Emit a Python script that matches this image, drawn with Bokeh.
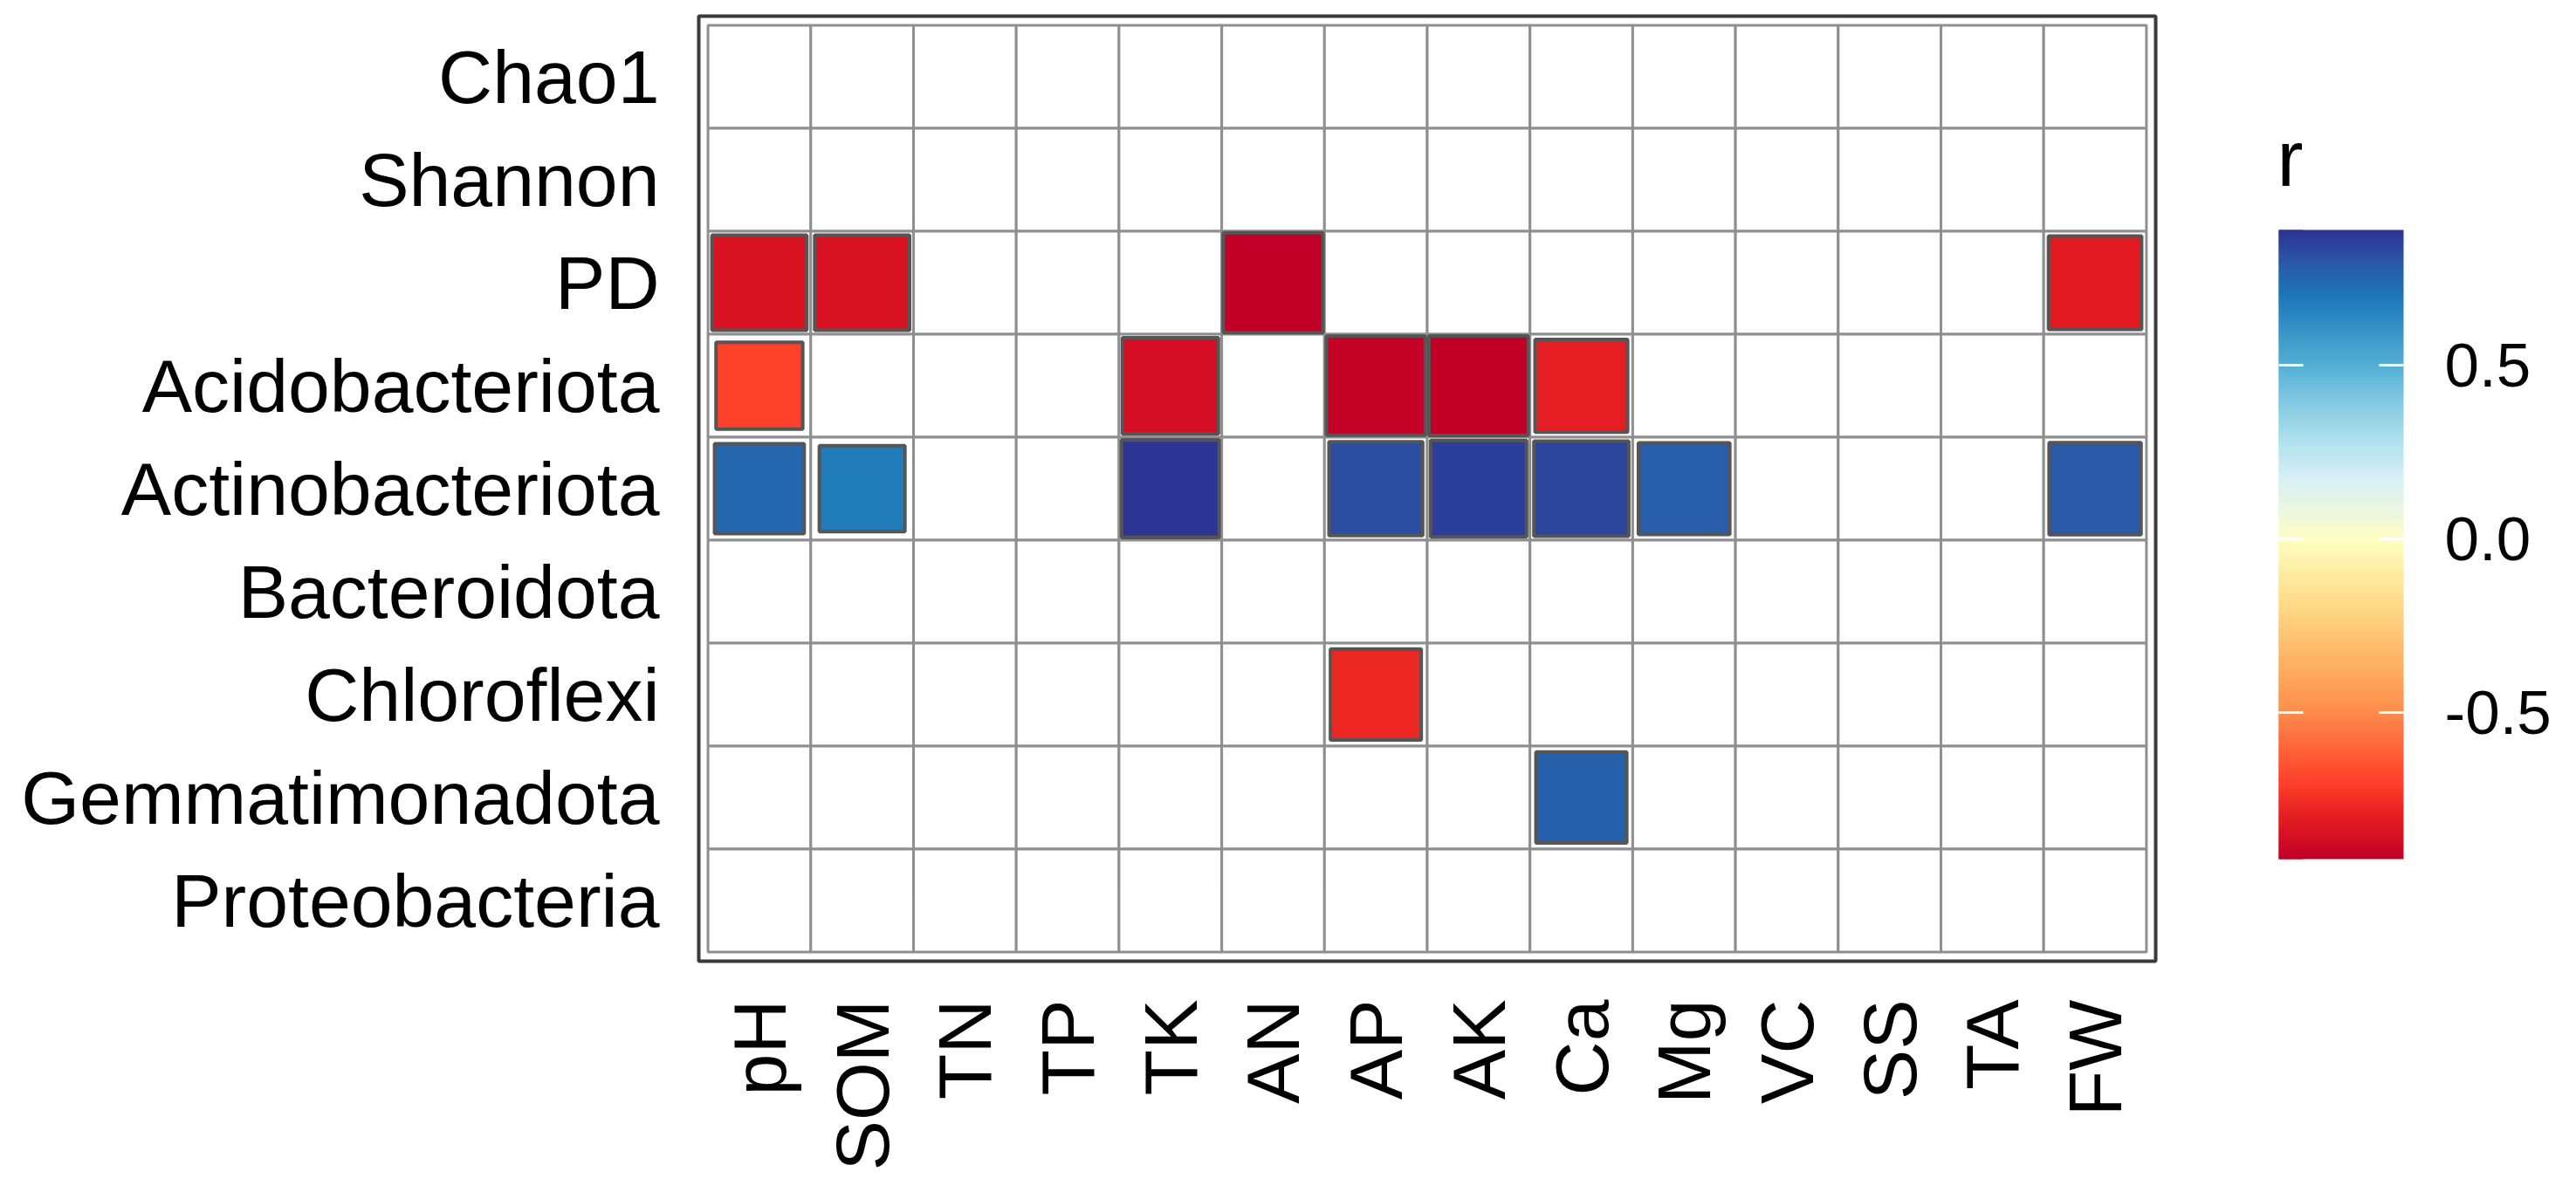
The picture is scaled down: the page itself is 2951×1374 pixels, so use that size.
import numpy as np
from bokeh.plotting import figure
from bokeh.models import (FactorRange, ColumnDataSource, LinearColorMapper, ColorBar,
                          FixedTicker, PrintfTickFormatter)
from bokeh.embed import file_html
from bokeh.resources import INLINE

# ---------------- data ----------------
taxa = ["Chao1", "Shannon", "PD", "Acidobacteriota", "Actinobacteriota",
        "Bacteroidota", "Chloroflexi", "Gemmatimonadota", "Proteobacteria"]
factors = ["pH", "SOM", "TN", "TP", "TK", "AN", "AP", "AK", "Ca", "Mg",
           "VC", "SS", "TA", "FW"]

sig_taxon = (["PD"] * 4 + ["Acidobacteriota"] * 5 + ["Actinobacteriota"] * 8
             + ["Chloroflexi", "Gemmatimonadota"])
sig_factor = ["pH", "SOM", "AN", "FW",
              "pH", "TK", "AP", "AK", "Ca",
              "pH", "SOM", "TK", "AP", "AK", "Ca", "Mg", "FW",
              "AP", "Ca"]
sig_r = [-0.84, -0.84, -0.922, -0.81,
         -0.70, -0.86, -0.91, -0.915, -0.80,
         0.75, 0.68, 0.889, 0.82, 0.86, 0.84, 0.78, 0.79,
         -0.77, 0.77]

legend_title = "r"
colorbar_ticks = [-0.5, 0.0, 0.5]

# colour scale stops (value, colour)
scale_vals = [-0.922, -0.867, -0.81, -0.72, -0.615, -0.5, -0.357, -0.206, -0.1, 0.0,
              0.068, 0.17, 0.276, 0.38, 0.5, 0.59, 0.70, 0.80, 0.889]
scale_cols = ["#c00026", "#d40e24", "#e31b22", "#fc3a28", "#ff6038", "#fd8c4c",
              "#fdb262", "#fed684", "#feeba2", "#ffffc2", "#eef8dc", "#d8f0f4",
              "#b2e2ee", "#88cce4", "#54b0d6", "#3a96c8", "#1c78b8", "#2a58a6",
              "#2c3494"]

# ---------------- palette ----------------
def hex2rgb(h):
    h = h.lstrip("#")
    return [int(h[i:i + 2], 16) for i in (0, 2, 4)]

r_low, r_high = min(sig_r), max(sig_r)
grid_v = np.linspace(r_low, r_high, 256)
rgb = np.array([hex2rgb(c) for c in scale_cols], dtype=float)
pal = []
for v in grid_v:
    ch = [np.interp(v, scale_vals, rgb[:, k]) for k in range(3)]
    pal.append("#%02x%02x%02x" % tuple(int(round(c)) for c in ch))

mapper = LinearColorMapper(palette=pal, low=r_low, high=r_high)

# ---------------- sources ----------------
cell_x = [f for t in taxa for f in factors]
cell_y = [t for t in taxa for f in factors]
cells = ColumnDataSource(dict(x=cell_x, y=cell_y))

absr = np.abs(np.array(sig_r))
side_min, side_max = 0.833, 0.97
side = side_min + (absr - absr.min()) / (absr.max() - absr.min()) * (side_max - side_min)
sq = ColumnDataSource(dict(x=sig_factor, y=sig_taxon, r=sig_r, s=side.tolist()))

# ---------------- figure ----------------
p = figure(x_range=FactorRange(factors=factors, range_padding=0.09,
                               range_padding_units="absolute"),
           y_range=FactorRange(factors=taxa[::-1], range_padding=0.09,
                               range_padding_units="absolute"),
           frame_width=1669, frame_height=1083,
           min_border_left=800, min_border_top=18,
           min_border_right=466, min_border_bottom=257,
           output_backend="svg", toolbar_location=None)

p.background_fill_color = "white"
p.border_fill_color = "white"
p.outline_line_color = "#3a3a3a"
p.outline_line_width = 4
p.xgrid.visible = False
p.ygrid.visible = False

p.rect(x="x", y="y", width=1, height=1, source=cells,
       fill_color="white", line_color="#8f8f8f", line_width=3)

p.rect(x="x", y="y", width="s", height="s", source=sq,
       fill_color={"field": "r", "transform": mapper},
       line_color="#555555", line_width=4)

for ax in (p.xaxis, p.yaxis):
    ax.axis_line_color = None
    ax.major_tick_line_color = None
    ax.minor_tick_line_color = None
    ax.major_tick_out = 0
    ax.major_tick_in = 0
    ax.major_label_text_font = "Liberation Sans"
    ax.major_label_text_font_size = "86px"
    ax.major_label_text_color = "black"

p.yaxis.major_label_standoff = 45
p.xaxis.major_label_standoff = 44
p.xaxis.major_label_orientation = np.pi / 2

common = dict(color_mapper=mapper, ticker=FixedTicker(ticks=colorbar_ticks),
              orientation="vertical", height=721, location=(1800, 107),
              padding=10, margin=0,
              major_tick_line_color="white", major_tick_line_width=3,
              major_tick_in=28, major_tick_out=0, minor_tick_line_color=None,
              bar_line_color=None, border_line_color=None,
              background_fill_color=None)

cb = ColorBar(width=143,
              formatter=PrintfTickFormatter(format="%.1f"),
              major_label_text_font="Liberation Sans", major_label_text_font_size="71px",
              major_label_text_color="black", label_standoff=47, **common)
p.add_layout(cb, "center")

# narrow overlay strip of the same bar, giving the white ticks on the left edge too
cb_left = ColorBar(width=28, major_label_text_alpha=0,
                   major_label_text_font_size="71px", **common)
p.add_layout(cb_left, "center")

# legend title "r" set horizontally above the bar (an empty horizontal bar carries it)
cb_title = ColorBar(color_mapper=mapper, orientation="horizontal", title=legend_title,
                    title_text_font="Liberation Sans", title_text_font_size="90px",
                    title_text_font_style="normal", title_text_color="black",
                    title_standoff=0, width=143, height=1, scale_alpha=0,
                    padding=0, margin=0, location=(1808, 869),
                    major_tick_line_color=None, minor_tick_line_color=None,
                    major_label_text_alpha=0, major_label_text_font_size="1px",
                    label_standoff=0, bar_line_color=None, border_line_color=None,
                    background_fill_color=None)
p.add_layout(cb_title, "center")

open("out.html", "w").write(file_html(p, INLINE))
